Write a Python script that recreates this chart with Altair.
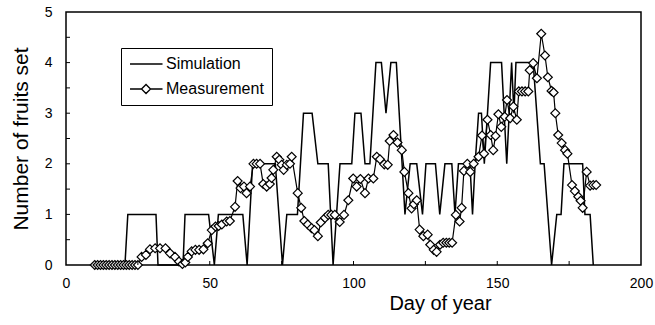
import altair as alt
import pandas as pd

# Simulation (day, number of fruits set)
sim_day = [10, 20.5, 21.5, 31.3, 32, 40.7, 41.4, 49.6, 51.6, 53, 61.5, 63, 64.9, 72.8, 75.3,
           76.8, 80.5, 82.6, 85.6, 87.6, 91.2, 92.9, 95.3, 99.4, 100.5, 102.6, 104, 105.7,
           107.8, 109.7, 111.3, 113, 114.9, 117.9, 119.7, 122, 124, 125.2, 128.5, 130,
           131.8, 134.2, 135.3, 136.5, 140.5, 141.4, 142.3, 143.5, 144.5, 145.5, 147.7,
           151.5, 153.3, 155, 155.8, 156.5, 162.5, 165, 166.3, 168.9, 170.7, 172.2, 173.2,
           179.7, 180.5, 182.3, 183.4]
sim_val = [0, 0, 1, 1, 0, 0, 1, 1, 0, 1, 1, 0, 2, 2, 0,
           1, 1, 3, 3, 2, 2, 0, 2, 2, 3, 3, 2, 2,
           4, 4, 3, 4, 4, 1, 2, 2, 1, 2, 2, 1,
           2, 2, 1, 2, 2, 1, 2, 3, 3, 2, 4,
           4, 2, 4, 3, 4, 4, 2, 2, 0, 1, 1, 2,
           2, 1, 1, 0]

# Measurement (day, number of fruits set)
meas_day = [10, 11, 12, 13, 14, 15, 16, 17, 18, 19, 20, 21, 22, 23, 24, 25,
            26.3, 27.8, 29.2, 31, 32.7, 34.6, 36.2, 37.9, 39.3, 40.5, 41.5, 42.4, 43.7, 45,
            46.3, 47.8, 49.3, 50.7, 52, 53.1, 54.2, 55.9, 57, 58.8, 59.7, 60.7, 61.9, 62.8,
            64, 65.2, 66.3, 67.5, 68.6, 69.8, 70.9, 71.5, 72.1, 73.3, 74.2, 75, 75.7, 76.8,
            77.9, 78.5, 80.6, 81.8, 82.9, 84.1, 85.4, 86.4, 87.6, 88.6, 90.1, 91.2, 92.3,
            93.5, 95.2, 96.7, 98.2, 99.9, 101.1, 102.4, 104, 105.2, 106.9, 108.1, 109.2,
            110.7, 111.9, 112.6, 113.9, 115.3, 116.8, 117.7, 119.1, 120.2, 121, 122, 123,
            124.3, 125.8, 126.7, 127.9, 128.9, 130.1, 131.2, 132.3, 133.3, 134.3, 135.6,
            136.9, 137.6, 138.4, 139.6, 140.6, 141.8, 143.5, 144.7, 145.4, 146.6, 147.7,
            148.6, 149.4, 150.4, 151.4, 152.6, 153.4, 154.5, 155.6, 156.8, 157.5, 158.6,
            159.7, 160.8, 161.3, 162.5, 163.8, 165.3, 166.6, 167.6, 168.9, 169.6, 170.2,
            171.2, 172.4, 173.6, 174.4, 176, 177, 178.2, 179, 179.7, 181.1, 182.3, 183.4,
            184.4]
meas_val = [0, 0, 0, 0, 0, 0, 0, 0, 0, 0, 0, 0, 0, 0, 0, 0,
            0.16, 0.2, 0.31, 0.33, 0.33, 0.33, 0.23, 0.16, 0.07, 0.02, 0.05, 0.16, 0.27, 0.3,
            0.3, 0.31, 0.43, 0.69, 0.76, 0.77, 0.8, 0.86, 0.87, 1.15, 1.66, 1.52, 1.55, 1.42,
            1.55, 2.0, 2.0, 2.0, 1.6, 1.55, 1.6, 1.72, 1.88, 2.14, 2.08, 1.98, 1.88, 1.98,
            2.0, 2.14, 1.42, 1.13, 0.87, 0.8, 0.73, 0.69, 0.57, 0.84, 0.93, 0.99, 0.99,
            0.99, 0.85, 0.99, 1.28, 1.71, 1.55, 1.7, 1.42, 1.71, 1.71, 2.14, 2.09,
            1.99, 1.98, 2.45, 2.57, 2.42, 2.27, 1.84, 1.42, 1.12, 1.2, 1.28, 0.7,
            0.57, 0.6, 0.4, 0.3, 0.26, 0.4, 0.44, 0.44, 0.44, 0.44, 0.99,
            0.86, 1.13, 1.86, 2.0, 1.84, 2.0, 2.14, 2.56, 2.2, 2.87, 2.57,
            2.27, 2.55, 2.98, 2.73, 2.93, 3.26, 2.9, 3.13, 2.87, 3.43, 3.43,
            3.43, 3.43, 3.85, 3.99, 3.69, 4.57, 4.14, 3.71, 3.44, 3.41, 3.0,
            2.57, 2.41, 2.27, 2.2, 1.58, 1.46, 1.35, 1.27, 1.13, 1.84, 1.57, 1.58,
            1.58]

series_names = ["Simulation", "Measurement"]
x_labels = [0, 50, 100, 150, 200]
y_labels = [0, 1, 2, 3, 4, 5]
x_minor = [25, 50, 75, 100, 125, 150, 175]
y_minor = [0.5, 1, 1.5, 2, 2.5, 3, 3.5, 4, 4.5]

FONT = "Liberation Sans"

sim_df = pd.DataFrame({"day": sim_day, "value": sim_val})
meas_df = pd.DataFrame({"day": meas_day, "value": meas_val})
leg_df = pd.DataFrame({"series": series_names})
xt_df = pd.DataFrame({"day": x_minor})
yt_df = pd.DataFrame({"value": y_minor})

xscale = alt.Scale(domain=[0, 200], nice=False, zero=False)
yscale = alt.Scale(domain=[0, 5], nice=False)

x_axis = alt.Axis(values=x_labels, title="Day of year", ticks=False, domain=False, grid=False,
                  labelPadding=11, labelFontSize=14, labelColor="black", labelFont=FONT,
                  labelFlush=False, titleFont=FONT, titleFontSize=20, titleFontWeight="normal",
                  titleColor="black", titleX=374, titleY=28)
y_axis = alt.Axis(values=y_labels, title="Number of fruits set", ticks=False, domain=False,
                  grid=False, labelPadding=14, labelFontSize=14, labelColor="black",
                  labelFont=FONT, labelFlush=False, titleFont=FONT, titleFontSize=21,
                  titleFontWeight="normal", titleColor="black", titlePadding=13)

X = alt.X("day:Q", scale=xscale, axis=x_axis)
Y = alt.Y("value:Q", scale=yscale, axis=y_axis)

sim_line = alt.Chart(sim_df).mark_line(color="black", strokeWidth=1.5).encode(x=X, y=Y)
meas_line = alt.Chart(meas_df).mark_line(color="black", strokeWidth=1.2).encode(x=X, y=Y)
meas_pts = alt.Chart(meas_df).mark_point(shape="diamond", size=80, filled=True, fill="white",
                                         stroke="black", strokeWidth=1.2, opacity=1).encode(x=X, y=Y)

xticks = alt.Chart(xt_df).mark_rule(color="black", strokeWidth=1).encode(
    x=X, y=alt.value(253), y2=alt.value(249))
yticks = alt.Chart(yt_df).mark_rule(color="black", strokeWidth=1).encode(
    y=Y, x=alt.value(0), x2=alt.value(4))

path_sim = "M-1.27,0H4.64"
path_meas = "M-1.27,0H0.82M2.46,0H4.64M0.82,0L1.64,-0.82L2.46,0L1.64,0.82Z"

legend_layer = alt.Chart(leg_df).mark_point(filled=False, color="black",
                                            strokeWidth=1.3, opacity=1).encode(
    x=alt.value(-300), y=alt.value(-300),
    shape=alt.Shape("series:N",
                    scale=alt.Scale(domain=series_names, range=[path_sim, path_meas]),
                    legend=alt.Legend(title=None, orient="none", legendX=55, legendY=36,
                                      strokeColor="black", fillColor="white", padding=8,
                                      rowPadding=9, symbolSize=121,
                                      symbolStrokeColor="black", symbolStrokeWidth=1.3,
                                      symbolOpacity=1, labelFont=FONT, labelFontSize=16,
                                      labelColor="black", labelOffset=21, cornerRadius=0)))

chart = alt.layer(sim_line, meas_line, meas_pts, xticks, yticks, legend_layer).properties(
    width=575, height=253,
    autosize=alt.AutoSizeParams(type="none"),
    padding={"left": 66, "top": 12, "right": 14, "bottom": 60},
    background="white",
).configure_view(stroke="black", strokeWidth=1.5)

chart.save("out.html", embed_options={"renderer": "svg", "actions": False})
